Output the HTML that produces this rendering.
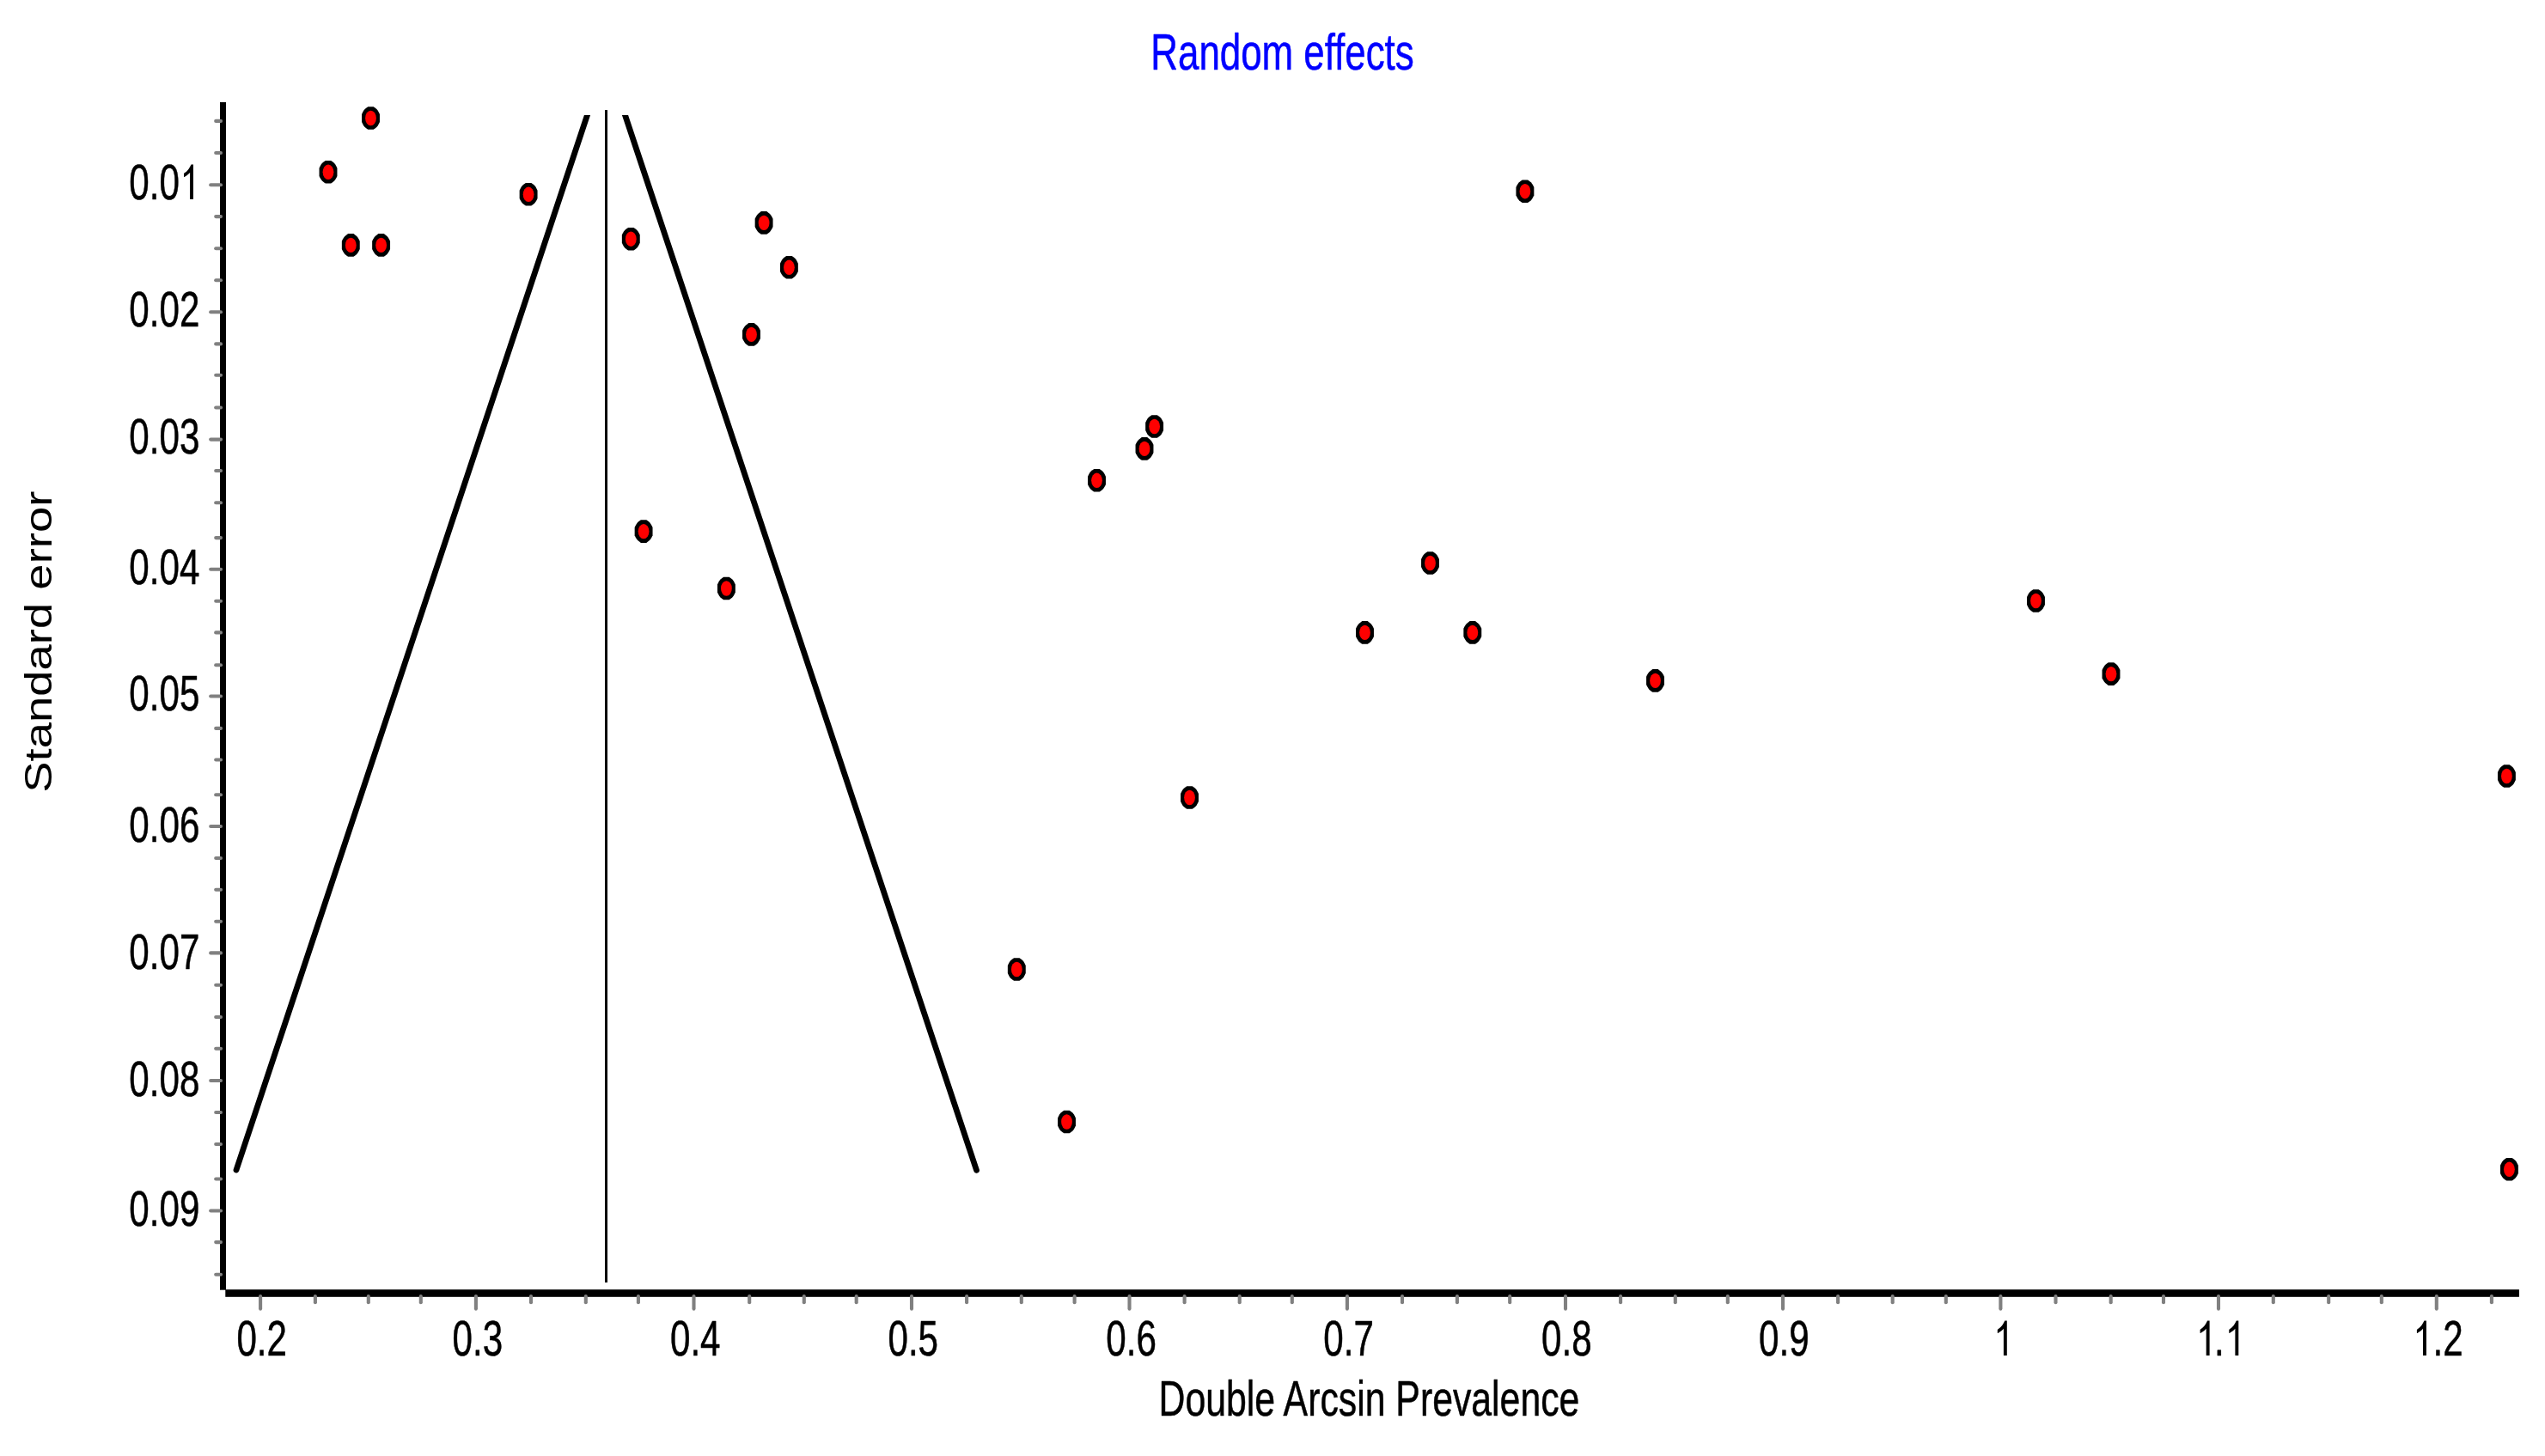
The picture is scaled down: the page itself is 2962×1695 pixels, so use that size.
<!DOCTYPE html><html><head><meta charset="utf-8"><title>Random effects funnel plot</title><style>html,body{margin:0;padding:0;background:#fff;overflow:hidden}svg{display:block;-webkit-font-smoothing:antialiased;will-change:transform}text{font-family:"Liberation Sans",sans-serif;stroke-width:0.55px;stroke-linejoin:round}</style></head><body>
<svg width="2962" height="1695" viewBox="0 0 2962 1695">
<defs><clipPath id="cy0" clipPathUnits="userSpaceOnUse"><rect x="1.200" y="-80" width="30.278" height="100"/><rect x="32.678" y="-80" width="14.525" height="100"/><rect x="48.404" y="-80" width="30.278" height="100"/></clipPath><clipPath id="cx8" clipPathUnits="userSpaceOnUse"><rect x="0" y="0" width="0" height="0"/></clipPath><clipPath id="cx9" clipPathUnits="userSpaceOnUse"><rect x="32.678" y="-80" width="14.525" height="100"/></clipPath><clipPath id="cx10" clipPathUnits="userSpaceOnUse"><rect x="32.678" y="-80" width="14.525" height="100"/><rect x="48.404" y="-80" width="30.278" height="100"/></clipPath><clipPath id="fc"><rect x="0" y="134" width="2962" height="1561"/></clipPath></defs>
<rect width="2962" height="1695" fill="#fff"/>
<text transform="translate(1339.3,80.9) scale(0.7488,1)" font-size="58.6" fill="#0000ff" stroke="#0000ff">Random effects</text>
<text transform="translate(60.3,922.7) rotate(-90) scale(1.21,1)" font-size="45" fill="#000">Standard error</text>
<text transform="translate(1348.5,1647.8) scale(0.734,1)" font-size="58.3" fill="#000" stroke="#000">Double Arcsin Prevalence</text>
<rect x="256" y="119" width="7" height="1382.7" fill="#000"/>
<rect x="262.3" y="1501.2" width="2669.6" height="8.6" fill="#000"/>
<g stroke="#808080" stroke-width="4.1" stroke-linecap="round"><line x1="251.2" y1="140.9" x2="257.0" y2="140.9"/><line x1="251.2" y1="178" x2="257.0" y2="178"/><line x1="245.2" y1="215.2" x2="257.0" y2="215.2"/><line x1="251.2" y1="252.1" x2="257.0" y2="252.1"/><line x1="251.2" y1="289.2" x2="257.0" y2="289.2"/><line x1="251.2" y1="326.3" x2="257.0" y2="326.3"/><line x1="245.2" y1="363.3" x2="257.0" y2="363.3"/><line x1="251.2" y1="400.4" x2="257.0" y2="400.4"/><line x1="251.2" y1="436.8" x2="257.0" y2="436.8"/><line x1="251.2" y1="474.5" x2="257.0" y2="474.5"/><line x1="245.2" y1="511.6" x2="257.0" y2="511.6"/><line x1="251.2" y1="548" x2="257.0" y2="548"/><line x1="251.2" y1="585.3" x2="257.0" y2="585.3"/><line x1="251.2" y1="626.1" x2="257.0" y2="626.1"/><line x1="245.2" y1="662.8" x2="257.0" y2="662.8"/><line x1="251.2" y1="699.8" x2="257.0" y2="699.8"/><line x1="251.2" y1="736.4" x2="257.0" y2="736.4"/><line x1="251.2" y1="774.2" x2="257.0" y2="774.2"/><line x1="245.2" y1="810.5" x2="257.0" y2="810.5"/><line x1="251.2" y1="847.9" x2="257.0" y2="847.9"/><line x1="251.2" y1="884.5" x2="257.0" y2="884.5"/><line x1="251.2" y1="925.3" x2="257.0" y2="925.3"/><line x1="245.2" y1="962" x2="257.0" y2="962"/><line x1="251.2" y1="999" x2="257.0" y2="999"/><line x1="251.2" y1="1035.7" x2="257.0" y2="1035.7"/><line x1="251.2" y1="1072.7" x2="257.0" y2="1072.7"/><line x1="245.2" y1="1109.4" x2="257.0" y2="1109.4"/><line x1="251.2" y1="1146.7" x2="257.0" y2="1146.7"/><line x1="251.2" y1="1184" x2="257.0" y2="1184"/><line x1="251.2" y1="1220.7" x2="257.0" y2="1220.7"/><line x1="245.2" y1="1258" x2="257.0" y2="1258"/><line x1="251.2" y1="1295" x2="257.0" y2="1295"/><line x1="251.2" y1="1332" x2="257.0" y2="1332"/><line x1="251.2" y1="1372.5" x2="257.0" y2="1372.5"/><line x1="245.2" y1="1409.5" x2="257.0" y2="1409.5"/><line x1="251.2" y1="1446.1" x2="257.0" y2="1446.1"/><line x1="251.2" y1="1483.8" x2="257.0" y2="1483.8"/></g>
<g stroke="#808080" stroke-width="4.1" stroke-linecap="round"><line x1="303.1" y1="1509.1" x2="303.1" y2="1523.6"/><line x1="366.9" y1="1509.1" x2="366.9" y2="1516.2"/><line x1="428.8" y1="1509.1" x2="428.8" y2="1516.2"/><line x1="489.8" y1="1509.1" x2="489.8" y2="1516.2"/><line x1="553.9" y1="1509.1" x2="553.9" y2="1523.6"/><line x1="618" y1="1509.1" x2="618" y2="1516.2"/><line x1="681.8" y1="1509.1" x2="681.8" y2="1516.2"/><line x1="742.9" y1="1509.1" x2="742.9" y2="1516.2"/><line x1="807.5" y1="1509.1" x2="807.5" y2="1523.6"/><line x1="872.2" y1="1509.1" x2="872.2" y2="1516.2"/><line x1="935.8" y1="1509.1" x2="935.8" y2="1516.2"/><line x1="996.7" y1="1509.1" x2="996.7" y2="1516.2"/><line x1="1061" y1="1509.1" x2="1061" y2="1523.6"/><line x1="1125.1" y1="1509.1" x2="1125.1" y2="1516.2"/><line x1="1188.8" y1="1509.1" x2="1188.8" y2="1516.2"/><line x1="1250.6" y1="1509.1" x2="1250.6" y2="1516.2"/><line x1="1314.5" y1="1509.1" x2="1314.5" y2="1523.6"/><line x1="1378.6" y1="1509.1" x2="1378.6" y2="1516.2"/><line x1="1442.7" y1="1509.1" x2="1442.7" y2="1516.2"/><line x1="1503.8" y1="1509.1" x2="1503.8" y2="1516.2"/><line x1="1567.9" y1="1509.1" x2="1567.9" y2="1523.6"/><line x1="1632" y1="1509.1" x2="1632" y2="1516.2"/><line x1="1695.9" y1="1509.1" x2="1695.9" y2="1516.2"/><line x1="1757.2" y1="1509.1" x2="1757.2" y2="1516.2"/><line x1="1822" y1="1509.1" x2="1822" y2="1523.6"/><line x1="1886.1" y1="1509.1" x2="1886.1" y2="1516.2"/><line x1="1949.8" y1="1509.1" x2="1949.8" y2="1516.2"/><line x1="2010.8" y1="1509.1" x2="2010.8" y2="1516.2"/><line x1="2075" y1="1509.1" x2="2075" y2="1523.6"/><line x1="2139.1" y1="1509.1" x2="2139.1" y2="1516.2"/><line x1="2202.7" y1="1509.1" x2="2202.7" y2="1516.2"/><line x1="2264.8" y1="1509.1" x2="2264.8" y2="1516.2"/><line x1="2328.4" y1="1509.1" x2="2328.4" y2="1523.6"/><line x1="2392.5" y1="1509.1" x2="2392.5" y2="1516.2"/><line x1="2456.7" y1="1509.1" x2="2456.7" y2="1516.2"/><line x1="2518" y1="1509.1" x2="2518" y2="1516.2"/><line x1="2582" y1="1509.1" x2="2582" y2="1523.6"/><line x1="2645.8" y1="1509.1" x2="2645.8" y2="1516.2"/><line x1="2710.2" y1="1509.1" x2="2710.2" y2="1516.2"/><line x1="2771.8" y1="1509.1" x2="2771.8" y2="1516.2"/><line x1="2835.8" y1="1509.1" x2="2835.8" y2="1523.6"/><line x1="2899.9" y1="1509.1" x2="2899.9" y2="1516.2"/></g>
<g font-size="56.6" fill="#000" stroke="#000"><text transform="translate(150.35,231.8) scale(0.745,1)" clip-path="url(#cy0)" dx="0 0 0 2.148">0.01</text><text transform="translate(150.35,380.3) scale(0.745,1)">0.02</text><text transform="translate(150.35,527.6) scale(0.745,1)">0.03</text><text transform="translate(150.35,679.6) scale(0.745,1)">0.04</text><text transform="translate(150.35,826.7) scale(0.745,1)">0.05</text><text transform="translate(150.35,980.3) scale(0.745,1)">0.06</text><text transform="translate(150.35,1127.6) scale(0.745,1)">0.07</text><text transform="translate(150.35,1275.7) scale(0.745,1)">0.08</text><text transform="translate(150.35,1427.3) scale(0.745,1)">0.09</text></g>
<g font-size="56.6" fill="#000" stroke="#000"><text transform="translate(275.38,1577.7) scale(0.745,1)">0.2</text><text transform="translate(526.49,1577.7) scale(0.745,1)">0.3</text><text transform="translate(779.94,1577.7) scale(0.745,1)">0.4</text><text transform="translate(1033.45,1577.7) scale(0.745,1)">0.5</text><text transform="translate(1287.24,1577.7) scale(0.745,1)">0.6</text><text transform="translate(1540.33,1577.7) scale(0.745,1)">0.7</text><text transform="translate(1794.08,1577.7) scale(0.745,1)">0.8</text><text transform="translate(2047.12,1577.7) scale(0.745,1)">0.9</text><text transform="translate(2318.91,1577.7) scale(0.745,1)" clip-path="url(#cx8)" dx="2.148">1</text><text transform="translate(2553.52,1577.7) scale(0.745,1)" clip-path="url(#cx9)" dx="2.148 -2.148 2.148">1.1</text><text transform="translate(2808.02,1577.7) scale(0.745,1)" clip-path="url(#cx10)" dx="2.148 -2.148 0">1.2</text></g>
<g fill="#000"><path d="M225.00,191.50L225.00,232.10L221.10,232.10L221.10,200.90L220.00,202.00L218.60,203.30L216.70,204.70L214.50,206.10L214.00,205.90L214.00,202.00L214.20,201.80L217.30,199.40L219.40,197.00L221.10,194.25L222.50,191.50Z"/><path d="M2335.80,1537.40L2335.80,1578.00L2331.90,1578.00L2331.90,1546.80L2330.80,1547.90L2329.40,1549.20L2327.50,1550.60L2325.30,1552.00L2324.80,1551.80L2324.80,1547.90L2325.00,1547.70L2328.10,1545.30L2330.20,1542.90L2331.90,1540.15L2333.30,1537.40Z"/><path d="M2571.60,1537.40L2571.60,1578.00L2567.70,1578.00L2567.70,1546.80L2566.60,1547.90L2565.20,1549.20L2563.30,1550.60L2561.10,1552.00L2560.60,1551.80L2560.60,1547.90L2560.80,1547.70L2563.90,1545.30L2566.00,1542.90L2567.70,1540.15L2569.10,1537.40Z"/><path d="M2605.30,1537.40L2605.30,1578.00L2601.40,1578.00L2601.40,1546.80L2600.30,1547.90L2598.90,1549.20L2597.00,1550.60L2594.80,1552.00L2594.30,1551.80L2594.30,1547.90L2594.50,1547.70L2597.60,1545.30L2599.70,1542.90L2601.40,1540.15L2602.80,1537.40Z"/><path d="M2823.90,1537.40L2823.90,1578.00L2820.00,1578.00L2820.00,1546.80L2818.90,1547.90L2817.50,1549.20L2815.60,1550.60L2813.40,1552.00L2812.90,1551.80L2812.90,1547.90L2813.10,1547.70L2816.20,1545.30L2818.30,1542.90L2820.00,1540.15L2821.40,1537.40Z"/></g>
<rect x="704" y="128.1" width="3" height="1364.9" fill="#000"/>
<g clip-path="url(#fc)" stroke="#000" stroke-width="6.8" fill="none" stroke-linecap="round"><line x1="685.49" y1="128.0" x2="275.00" y2="1362.0"/><line x1="725.50" y1="128.0" x2="1136.50" y2="1362.3"/></g>
<g fill="#000"><g transform="translate(431.5,137.5)"><path d="M3.2,-13.3L5,-12L6.9,-10.5L8.3,-8.7L9.5,-6.6L10.45,-4.6L10.45,4.6L9.5,6.6L8.3,8.7L6.9,10.5L5,12L3.2,13.3L-3.2,13.3L-5,12L-6.9,10.5L-8.3,8.7L-9.5,6.6L-10.45,4.6L-10.45,-4.6L-9.5,-6.6L-8.3,-8.7L-6.9,-10.5L-5,-12L-3.2,-13.3Z"/><ellipse rx="6.4" ry="8.7" fill="#ff0000"/></g><g transform="translate(382.0,200.3)"><path d="M3.2,-13.3L5,-12L6.9,-10.5L8.3,-8.7L9.5,-6.6L10.45,-4.6L10.45,4.6L9.5,6.6L8.3,8.7L6.9,10.5L5,12L3.2,13.3L-3.2,13.3L-5,12L-6.9,10.5L-8.3,8.7L-9.5,6.6L-10.45,4.6L-10.45,-4.6L-9.5,-6.6L-8.3,-8.7L-6.9,-10.5L-5,-12L-3.2,-13.3Z"/><ellipse rx="6.4" ry="8.7" fill="#ff0000"/></g><g transform="translate(615.1,226.3)"><path d="M3.2,-13.3L5,-12L6.9,-10.5L8.3,-8.7L9.5,-6.6L10.45,-4.6L10.45,4.6L9.5,6.6L8.3,8.7L6.9,10.5L5,12L3.2,13.3L-3.2,13.3L-5,12L-6.9,10.5L-8.3,8.7L-9.5,6.6L-10.45,4.6L-10.45,-4.6L-9.5,-6.6L-8.3,-8.7L-6.9,-10.5L-5,-12L-3.2,-13.3Z"/><ellipse rx="6.4" ry="8.7" fill="#ff0000"/></g><g transform="translate(408.3,285.4)"><path d="M3.2,-13.3L5,-12L6.9,-10.5L8.3,-8.7L9.5,-6.6L10.45,-4.6L10.45,4.6L9.5,6.6L8.3,8.7L6.9,10.5L5,12L3.2,13.3L-3.2,13.3L-5,12L-6.9,10.5L-8.3,8.7L-9.5,6.6L-10.45,4.6L-10.45,-4.6L-9.5,-6.6L-8.3,-8.7L-6.9,-10.5L-5,-12L-3.2,-13.3Z"/><ellipse rx="6.4" ry="8.7" fill="#ff0000"/></g><g transform="translate(443.6,285.4)"><path d="M3.2,-13.3L5,-12L6.9,-10.5L8.3,-8.7L9.5,-6.6L10.45,-4.6L10.45,4.6L9.5,6.6L8.3,8.7L6.9,10.5L5,12L3.2,13.3L-3.2,13.3L-5,12L-6.9,10.5L-8.3,8.7L-9.5,6.6L-10.45,4.6L-10.45,-4.6L-9.5,-6.6L-8.3,-8.7L-6.9,-10.5L-5,-12L-3.2,-13.3Z"/><ellipse rx="6.4" ry="8.7" fill="#ff0000"/></g><g transform="translate(734.3,278.2)"><path d="M3.2,-13.3L5,-12L6.9,-10.5L8.3,-8.7L9.5,-6.6L10.45,-4.6L10.45,4.6L9.5,6.6L8.3,8.7L6.9,10.5L5,12L3.2,13.3L-3.2,13.3L-5,12L-6.9,10.5L-8.3,8.7L-9.5,6.6L-10.45,4.6L-10.45,-4.6L-9.5,-6.6L-8.3,-8.7L-6.9,-10.5L-5,-12L-3.2,-13.3Z"/><ellipse rx="6.4" ry="8.7" fill="#ff0000"/></g><g transform="translate(889.1,259.4)"><path d="M3.2,-13.3L5,-12L6.9,-10.5L8.3,-8.7L9.5,-6.6L10.45,-4.6L10.45,4.6L9.5,6.6L8.3,8.7L6.9,10.5L5,12L3.2,13.3L-3.2,13.3L-5,12L-6.9,10.5L-8.3,8.7L-9.5,6.6L-10.45,4.6L-10.45,-4.6L-9.5,-6.6L-8.3,-8.7L-6.9,-10.5L-5,-12L-3.2,-13.3Z"/><ellipse rx="6.4" ry="8.7" fill="#ff0000"/></g><g transform="translate(918.4,311.3)"><path d="M3.2,-13.3L5,-12L6.9,-10.5L8.3,-8.7L9.5,-6.6L10.45,-4.6L10.45,4.6L9.5,6.6L8.3,8.7L6.9,10.5L5,12L3.2,13.3L-3.2,13.3L-5,12L-6.9,10.5L-8.3,8.7L-9.5,6.6L-10.45,4.6L-10.45,-4.6L-9.5,-6.6L-8.3,-8.7L-6.9,-10.5L-5,-12L-3.2,-13.3Z"/><ellipse rx="6.4" ry="8.7" fill="#ff0000"/></g><g transform="translate(874.5,389.4)"><path d="M3.2,-13.3L5,-12L6.9,-10.5L8.3,-8.7L9.5,-6.6L10.45,-4.6L10.45,4.6L9.5,6.6L8.3,8.7L6.9,10.5L5,12L3.2,13.3L-3.2,13.3L-5,12L-6.9,10.5L-8.3,8.7L-9.5,6.6L-10.45,4.6L-10.45,-4.6L-9.5,-6.6L-8.3,-8.7L-6.9,-10.5L-5,-12L-3.2,-13.3Z"/><ellipse rx="6.4" ry="8.7" fill="#ff0000"/></g><g transform="translate(1774.9,222.7)"><path d="M3.2,-13.3L5,-12L6.9,-10.5L8.3,-8.7L9.5,-6.6L10.45,-4.6L10.45,4.6L9.5,6.6L8.3,8.7L6.9,10.5L5,12L3.2,13.3L-3.2,13.3L-5,12L-6.9,10.5L-8.3,8.7L-9.5,6.6L-10.45,4.6L-10.45,-4.6L-9.5,-6.6L-8.3,-8.7L-6.9,-10.5L-5,-12L-3.2,-13.3Z"/><ellipse rx="6.4" ry="8.7" fill="#ff0000"/></g><g transform="translate(1343.6,496.5)"><path d="M3.2,-13.3L5,-12L6.9,-10.5L8.3,-8.7L9.5,-6.6L10.45,-4.6L10.45,4.6L9.5,6.6L8.3,8.7L6.9,10.5L5,12L3.2,13.3L-3.2,13.3L-5,12L-6.9,10.5L-8.3,8.7L-9.5,6.6L-10.45,4.6L-10.45,-4.6L-9.5,-6.6L-8.3,-8.7L-6.9,-10.5L-5,-12L-3.2,-13.3Z"/><ellipse rx="6.4" ry="8.7" fill="#ff0000"/></g><g transform="translate(1332.0,522.4)"><path d="M3.2,-13.3L5,-12L6.9,-10.5L8.3,-8.7L9.5,-6.6L10.45,-4.6L10.45,4.6L9.5,6.6L8.3,8.7L6.9,10.5L5,12L3.2,13.3L-3.2,13.3L-5,12L-6.9,10.5L-8.3,8.7L-9.5,6.6L-10.45,4.6L-10.45,-4.6L-9.5,-6.6L-8.3,-8.7L-6.9,-10.5L-5,-12L-3.2,-13.3Z"/><ellipse rx="6.4" ry="8.7" fill="#ff0000"/></g><g transform="translate(1276.5,559.3)"><path d="M3.2,-13.3L5,-12L6.9,-10.5L8.3,-8.7L9.5,-6.6L10.45,-4.6L10.45,4.6L9.5,6.6L8.3,8.7L6.9,10.5L5,12L3.2,13.3L-3.2,13.3L-5,12L-6.9,10.5L-8.3,8.7L-9.5,6.6L-10.45,4.6L-10.45,-4.6L-9.5,-6.6L-8.3,-8.7L-6.9,-10.5L-5,-12L-3.2,-13.3Z"/><ellipse rx="6.4" ry="8.7" fill="#ff0000"/></g><g transform="translate(749.1,618.6)"><path d="M3.2,-13.3L5,-12L6.9,-10.5L8.3,-8.7L9.5,-6.6L10.45,-4.6L10.45,4.6L9.5,6.6L8.3,8.7L6.9,10.5L5,12L3.2,13.3L-3.2,13.3L-5,12L-6.9,10.5L-8.3,8.7L-9.5,6.6L-10.45,4.6L-10.45,-4.6L-9.5,-6.6L-8.3,-8.7L-6.9,-10.5L-5,-12L-3.2,-13.3Z"/><ellipse rx="6.4" ry="8.7" fill="#ff0000"/></g><g transform="translate(845.4,685.0)"><path d="M3.2,-13.3L5,-12L6.9,-10.5L8.3,-8.7L9.5,-6.6L10.45,-4.6L10.45,4.6L9.5,6.6L8.3,8.7L6.9,10.5L5,12L3.2,13.3L-3.2,13.3L-5,12L-6.9,10.5L-8.3,8.7L-9.5,6.6L-10.45,4.6L-10.45,-4.6L-9.5,-6.6L-8.3,-8.7L-6.9,-10.5L-5,-12L-3.2,-13.3Z"/><ellipse rx="6.4" ry="8.7" fill="#ff0000"/></g><g transform="translate(1664.5,655.5)"><path d="M3.2,-13.3L5,-12L6.9,-10.5L8.3,-8.7L9.5,-6.6L10.45,-4.6L10.45,4.6L9.5,6.6L8.3,8.7L6.9,10.5L5,12L3.2,13.3L-3.2,13.3L-5,12L-6.9,10.5L-8.3,8.7L-9.5,6.6L-10.45,4.6L-10.45,-4.6L-9.5,-6.6L-8.3,-8.7L-6.9,-10.5L-5,-12L-3.2,-13.3Z"/><ellipse rx="6.4" ry="8.7" fill="#ff0000"/></g><g transform="translate(2369.5,699.5)"><path d="M3.2,-13.3L5,-12L6.9,-10.5L8.3,-8.7L9.5,-6.6L10.45,-4.6L10.45,4.6L9.5,6.6L8.3,8.7L6.9,10.5L5,12L3.2,13.3L-3.2,13.3L-5,12L-6.9,10.5L-8.3,8.7L-9.5,6.6L-10.45,4.6L-10.45,-4.6L-9.5,-6.6L-8.3,-8.7L-6.9,-10.5L-5,-12L-3.2,-13.3Z"/><ellipse rx="6.4" ry="8.7" fill="#ff0000"/></g><g transform="translate(1588.5,736.4)"><path d="M3.2,-13.3L5,-12L6.9,-10.5L8.3,-8.7L9.5,-6.6L10.45,-4.6L10.45,4.6L9.5,6.6L8.3,8.7L6.9,10.5L5,12L3.2,13.3L-3.2,13.3L-5,12L-6.9,10.5L-8.3,8.7L-9.5,6.6L-10.45,4.6L-10.45,-4.6L-9.5,-6.6L-8.3,-8.7L-6.9,-10.5L-5,-12L-3.2,-13.3Z"/><ellipse rx="6.4" ry="8.7" fill="#ff0000"/></g><g transform="translate(1713.8,736.4)"><path d="M3.2,-13.3L5,-12L6.9,-10.5L8.3,-8.7L9.5,-6.6L10.45,-4.6L10.45,4.6L9.5,6.6L8.3,8.7L6.9,10.5L5,12L3.2,13.3L-3.2,13.3L-5,12L-6.9,10.5L-8.3,8.7L-9.5,6.6L-10.45,4.6L-10.45,-4.6L-9.5,-6.6L-8.3,-8.7L-6.9,-10.5L-5,-12L-3.2,-13.3Z"/><ellipse rx="6.4" ry="8.7" fill="#ff0000"/></g><g transform="translate(1926.5,792.4)"><path d="M3.2,-13.3L5,-12L6.9,-10.5L8.3,-8.7L9.5,-6.6L10.45,-4.6L10.45,4.6L9.5,6.6L8.3,8.7L6.9,10.5L5,12L3.2,13.3L-3.2,13.3L-5,12L-6.9,10.5L-8.3,8.7L-9.5,6.6L-10.45,4.6L-10.45,-4.6L-9.5,-6.6L-8.3,-8.7L-6.9,-10.5L-5,-12L-3.2,-13.3Z"/><ellipse rx="6.4" ry="8.7" fill="#ff0000"/></g><g transform="translate(2457.0,784.6)"><path d="M3.2,-13.3L5,-12L6.9,-10.5L8.3,-8.7L9.5,-6.6L10.45,-4.6L10.45,4.6L9.5,6.6L8.3,8.7L6.9,10.5L5,12L3.2,13.3L-3.2,13.3L-5,12L-6.9,10.5L-8.3,8.7L-9.5,6.6L-10.45,4.6L-10.45,-4.6L-9.5,-6.6L-8.3,-8.7L-6.9,-10.5L-5,-12L-3.2,-13.3Z"/><ellipse rx="6.4" ry="8.7" fill="#ff0000"/></g><g transform="translate(2917.4,903.5)"><path d="M3.2,-13.3L5,-12L6.9,-10.5L8.3,-8.7L9.5,-6.6L10.45,-4.6L10.45,4.6L9.5,6.6L8.3,8.7L6.9,10.5L5,12L3.2,13.3L-3.2,13.3L-5,12L-6.9,10.5L-8.3,8.7L-9.5,6.6L-10.45,4.6L-10.45,-4.6L-9.5,-6.6L-8.3,-8.7L-6.9,-10.5L-5,-12L-3.2,-13.3Z"/><ellipse rx="6.4" ry="8.7" fill="#ff0000"/></g><g transform="translate(1384.5,928.5)"><path d="M3.2,-13.3L5,-12L6.9,-10.5L8.3,-8.7L9.5,-6.6L10.45,-4.6L10.45,4.6L9.5,6.6L8.3,8.7L6.9,10.5L5,12L3.2,13.3L-3.2,13.3L-5,12L-6.9,10.5L-8.3,8.7L-9.5,6.6L-10.45,4.6L-10.45,-4.6L-9.5,-6.6L-8.3,-8.7L-6.9,-10.5L-5,-12L-3.2,-13.3Z"/><ellipse rx="6.4" ry="8.7" fill="#ff0000"/></g><g transform="translate(1183.3,1128.5)"><path d="M3.2,-13.3L5,-12L6.9,-10.5L8.3,-8.7L9.5,-6.6L10.45,-4.6L10.45,4.6L9.5,6.6L8.3,8.7L6.9,10.5L5,12L3.2,13.3L-3.2,13.3L-5,12L-6.9,10.5L-8.3,8.7L-9.5,6.6L-10.45,4.6L-10.45,-4.6L-9.5,-6.6L-8.3,-8.7L-6.9,-10.5L-5,-12L-3.2,-13.3Z"/><ellipse rx="6.4" ry="8.7" fill="#ff0000"/></g><g transform="translate(1241.5,1306.0)"><path d="M3.2,-13.3L5,-12L6.9,-10.5L8.3,-8.7L9.5,-6.6L10.45,-4.6L10.45,4.6L9.5,6.6L8.3,8.7L6.9,10.5L5,12L3.2,13.3L-3.2,13.3L-5,12L-6.9,10.5L-8.3,8.7L-9.5,6.6L-10.45,4.6L-10.45,-4.6L-9.5,-6.6L-8.3,-8.7L-6.9,-10.5L-5,-12L-3.2,-13.3Z"/><ellipse rx="6.4" ry="8.7" fill="#ff0000"/></g><g transform="translate(2920.4,1361.3)"><path d="M3.2,-13.3L5,-12L6.9,-10.5L8.3,-8.7L9.5,-6.6L10.45,-4.6L10.45,4.6L9.5,6.6L8.3,8.7L6.9,10.5L5,12L3.2,13.3L-3.2,13.3L-5,12L-6.9,10.5L-8.3,8.7L-9.5,6.6L-10.45,4.6L-10.45,-4.6L-9.5,-6.6L-8.3,-8.7L-6.9,-10.5L-5,-12L-3.2,-13.3Z"/><ellipse rx="6.4" ry="8.7" fill="#ff0000"/></g></g>
</svg></body></html>
